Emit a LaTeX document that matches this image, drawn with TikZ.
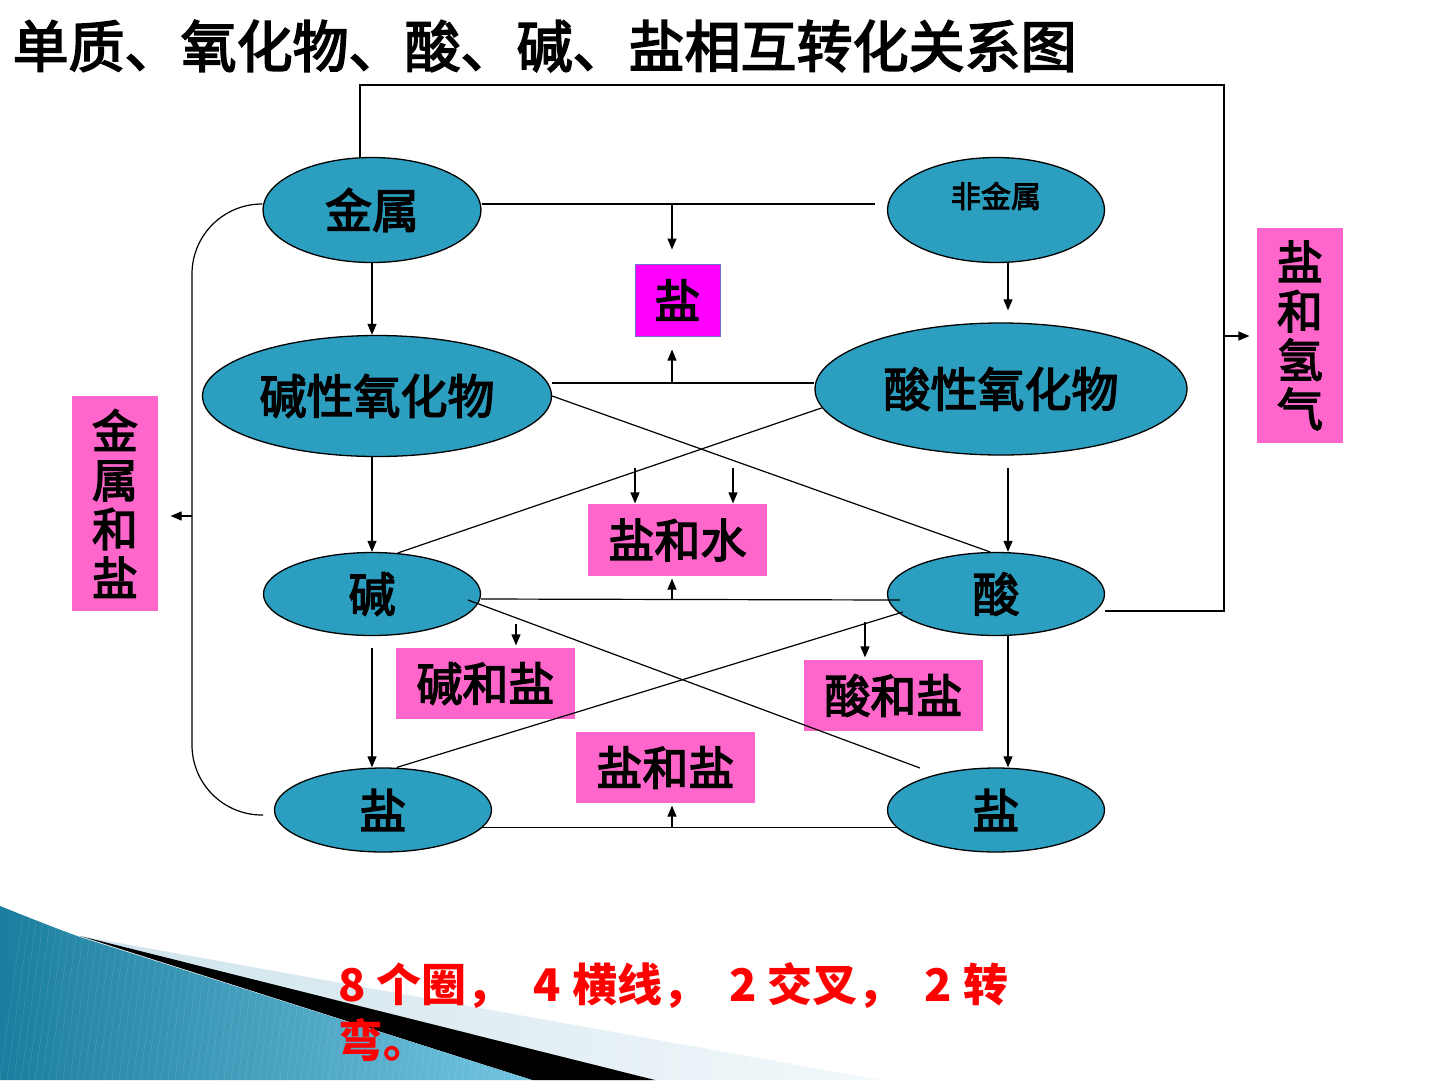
\documentclass[tikz,border=0pt]{standalone}
\usepackage{fontspec}
\newfontfamily\cjk{Noto Sans CJK SC}
\newfontfamily\cjkm[FakeBold=3]{Noto Sans CJK SC}
\usetikzlibrary{arrows.meta,shapes.geometric,calc}
\definecolor{ovalc}{HTML}{2C9FC0}
\definecolor{pinkc}{HTML}{FF66CC}
\definecolor{magc}{HTML}{FF00FF}
\definecolor{magborder}{HTML}{6F6FCF}
\definecolor{tealdark}{HTML}{1B7E9E}
\definecolor{teallight}{HTML}{74C6E2}
\definecolor{bandlight}{HTML}{CFE3EC}
\definecolor{bandwhite}{HTML}{F2F8FA}
\begin{document}
\begin{tikzpicture}[x=1pt,y=-1pt,line width=1.2pt,
  arr/.style={-{Triangle[length=11pt,width=9pt]}},
  oval/.style={ellipse,draw=black,line width=1.3pt,fill=ovalc,inner sep=0pt,
    font=\cjkm\fontsize{47}{50}\selectfont},
  pbox/.style={rectangle,fill=pinkc,inner sep=0pt,
    font=\cjkm\fontsize{46}{49}\selectfont}]
\useasboundingbox (0,0) rectangle (1440,1080);
\fill[white] (0,0) rectangle (1440,1080);

% decoration bottom-left
\shade[left color=bandlight,right color=bandwhite] (80,936) -- (880,1080) -- (540,1080) -- cycle;
\fill[black] (80,936) -- (655,1080) -- (532,1080) -- cycle;
\begin{scope}
\clip (0,906) .. controls (30,918) and (55,928) .. (80,937) -- (532,1080) -- (0,1080) -- cycle;
\shade[left color=tealdark,right color=teallight] (0,900) rectangle (540,1080);
\foreach \k in {0,7,...,560} \draw[white,opacity=0.12,line width=0.6pt] (\k,1080) -- (\k+25,900);
\end{scope}

% title
\node[anchor=west,inner sep=0pt,font=\cjkm\fontsize{56}{60}\selectfont] (title) at (12,46) {单质、氧化物、酸、碱、盐相互转化关系图};

% ellipses
\node[oval,minimum width=218pt,minimum height=105pt] (jinshu) at (372,210) {金属};
\node[oval,minimum width=217pt,minimum height=105pt,
  label={[font=\cjkm\fontsize{30}{32}\selectfont,yshift=14pt]center:非金属}] (feijinshu) at (996,210) {};
\node[oval,minimum width=349pt,minimum height=121pt] (jxyh) at (377,396) {碱性氧化物};
\node[oval,minimum width=372pt,minimum height=132pt] (sxyh) at (1001,389) {酸性氧化物};
\node[oval,minimum width=217pt,minimum height=83pt] (jian) at (372,594) {碱};
\node[oval,minimum width=217pt,minimum height=83pt] (suan) at (996,594) {酸};
\node[oval,minimum width=217pt,minimum height=84pt] (yanL) at (383,810) {盐};
\node[oval,minimum width=217pt,minimum height=84pt] (yanR) at (996,810) {盐};

% boxes
\node[pbox,fill=magc,draw=magborder,line width=1pt,minimum width=85pt,minimum height=72pt] (yan0) at (677.5,300) {盐};
\node[pbox,minimum width=179pt,minimum height=72pt] (yhs) at (677.5,540) {盐和水};
\node[pbox,minimum width=179pt,minimum height=71pt] (jhy) at (485.5,683.5) {碱和盐};
\node[pbox,minimum width=179pt,minimum height=71pt] (shy) at (893.5,695.5) {酸和盐};
\node[pbox,minimum width=179pt,minimum height=71pt] (yhy) at (665.5,767.5) {盐和盐};
\node[pbox,minimum width=86pt,minimum height=215pt,align=center] (jshy) at (115,503.5) {金\\属\\和\\盐};
\node[pbox,minimum width=86pt,minimum height=215pt,align=center] (yhq) at (1300,335.5) {盐\\和\\氢\\气};

% coordinates
\coordinate (tl) at (360,85);
\coordinate (tr) at (1224,85);
\coordinate (br) at (1224,611);
\coordinate (se) at (1105,611);
\coordinate (ya) at (1224,336);
\coordinate (a1) at (672,204);
\coordinate (a2) at (672,383);
\coordinate (a3) at (1008,468);
\coordinate (c1) at (635,468);
\coordinate (c2) at (733,468);
\coordinate (h2) at (900,600);
\coordinate (a4) at (672,600);
\coordinate (x3s) at (468,600);
\coordinate (x3e) at (920,768);
\coordinate (x4s) at (903,612);
\coordinate (d1) at (516,624);
\coordinate (d2) at (865,622);
\coordinate (d3) at (372,648);
\coordinate (a5) at (672,828);
\coordinate (cv) at (192,516);
\coordinate (cb) at (263,815);
\coordinate (me) at (875,204);

% outer frame
\draw ([xshift=-12pt]jinshu.north) -- (tl) -- (tr) -- (br) -- (se);
\draw[arr,shorten >=7pt] (ya) -- (ya -| yhq.west);

% horizontal lines
\draw ([yshift=6pt]jinshu.east) -- (me);
\draw[arr,shorten >=14pt] (a1) -- (a1 |- yan0.north);
\draw ([yshift=13pt]jxyh.east) -- ([yshift=6pt]sxyh.west);
\draw[arr,shorten >=13pt] (a2) -- (a2 |- yan0.south);
\draw ([yshift=-5pt]jian.east) -- (h2);
\draw[arr,shorten >=2pt] (a4) -- (yhs.south -| a4);
\draw (yanL.-10.4) -- (yanR.190.4);
\draw[arr,shorten >=2pt] (a5) -- (yhy.south -| a5);

% vertical arrows
\draw[arr] (jinshu.south) -- (jinshu.south |- jxyh.north);
\draw[arr,shorten >=12pt] ([xshift=12pt]feijinshu.south) -- ([xshift=12pt]feijinshu.south |- sxyh.north);
\draw[arr] (jxyh.south -| jian.north) -- (jian.north);
\draw[arr] (a3) -- (a3 |- suan.north);
\draw[arr] (d3) -- (yanL.north -| d3);
\draw[arr] ([xshift=12pt]suan.south) -- ([xshift=12pt]suan.south |- yanR.north);

% crosses
\draw (jxyh.east) -- (suan.98);
\draw (sxyh.186) -- (jian.58.6);
\draw[arr] (c1) -- (yhs.north -| c1);
\draw[arr] (c2) -- (yhs.north -| c2);
\draw (x3s) -- (x3e);
\draw (x4s) -- ([xshift=14pt]yanL.north);
\draw[arr,shorten >=2pt] (d1) -- (jhy.north -| d1);
\draw[arr,shorten >=2pt] (d2) -- (shy.north -| d2);

% left bend
\draw[rounded corners=70pt] ([yshift=6pt]jinshu.west) -| (cv) |- (cb);
\draw[arr,shorten >=12pt] (cv) -- (cv -| jshy.east);

% note
\node[anchor=north west,align=left,inner sep=0pt,text=red,
  font=\cjk\bfseries\fontsize{45}{56}\selectfont] (note) at (338,962)
  {8\hspace{11pt}个圈，\hspace{22pt}4\hspace{11pt}横线，\hspace{22pt}2\hspace{11pt}交叉，\hspace{22pt}2\hspace{11pt}转\\弯。};
\end{tikzpicture}
\end{document}
